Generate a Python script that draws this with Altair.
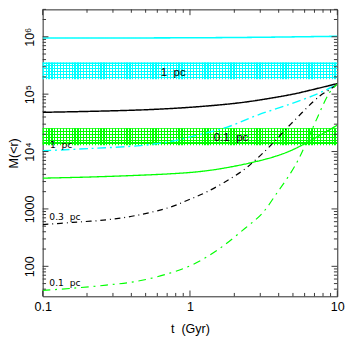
import altair as alt
import pandas as pd

# ---------------- data ----------------
cyan_solid_t = [0.1, 1.0, 3.0, 10.0]
cyan_solid_m = [9.5e5, 9.6e5, 9.8e5, 1.02e6]

black_solid_t = [0.1, 0.2, 0.5, 1.0, 2.0, 3.0, 5.0, 7.0, 10.0]
black_solid_m = [4.83e4, 5.0e4, 5.35e4, 5.9e4, 6.9e4, 7.95e4, 1.0e5, 1.22e5, 1.53e5]

cyan_dd_t = [0.1, 0.21, 0.46, 0.75, 0.97, 1.77, 2.91, 4.83, 7.19, 9.28, 10.0]
cyan_dd_m = [1.03e4, 1.13e4, 1.27e4, 1.5e4, 1.76e4, 2.64e4, 4.36e4, 6.78e4, 9.9e4, 1.35e5, 1.5e5]

green_solid_t = [0.1, 0.21, 0.44, 0.73, 1.09, 1.6, 2.64, 3.94, 5.08, 6.19, 7.99, 10.0]
green_solid_m = [3.44e3, 3.6e3, 3.85e3, 4.09e3, 4.4e3, 5.0e3, 6.45e3, 8.5e3, 1.1e4, 1.43e4, 2.05e4, 2.88e4]

black_dd_t = [0.1, 0.16, 0.27, 0.44, 0.73, 0.99, 1.31, 1.86, 2.39, 2.78, 3.4, 4.83, 7.6, 8.83, 10.0]
black_dd_m = [532, 583, 645, 777, 1070, 1460, 2000, 3300, 5100, 7100, 11600, 30000, 93000, 119000, 150000]

green_dd_t = [0.1, 0.16, 0.27, 0.44, 0.73, 1.05, 1.6, 2.39, 3.08, 3.95, 4.83, 5.48, 6.21, 7.22, 8.83, 10.0]
green_dd_m = [38, 41.5, 47, 55, 76, 108, 207, 470, 828, 2000, 4250, 7500, 15000, 36000, 105000, 150000]

series_names = ["cyan_solid", "black_solid", "cyan_dd", "green_solid", "black_dd", "green_dd"]
series_colors = ["#00ffff", "#000000", "#00ffff", "#00ff00", "#000000", "#00ff00"]
series_dash = [[1, 0], [1, 0], [9, 4, 2, 4], [1, 0], [6, 4, 1, 4], [8, 5, 2, 5]]
series_width = [1.6, 1.2, 1.6, 1.8, 1.0, 1.6]

band_labels = ["1\u00a0 pc", "0.1\u00a0 pc"]
band_lo = [1.81e5, 1.29e4]
band_hi = [3.57e5, 2.54e4]
band_colors = ["#00ffff", "#00ff00"]
band_label_t = [0.77, 1.9]
band_label_m = [2.45e5, 1.8e4]

curve_labels = ["1\u00a0 pc", "0.3\u00a0 pc", "0.1\u00a0 pc"]
curve_label_t = [0.112, 0.111, 0.111]
curve_label_m = [1.3e4, 711, 50.7]

x_major = [0.1, 1, 10]
x_minor = [0.2, 0.3, 0.4, 0.5, 0.6, 0.7, 0.8, 0.9, 2, 3, 4, 5, 6, 7, 8, 9]
y_major = [100, 1000, 1e4, 1e5, 1e6]
y_minor = [40, 50, 60, 70, 80, 90,
           200, 300, 400, 500, 600, 700, 800, 900,
           2e3, 3e3, 4e3, 5e3, 6e3, 7e3, 8e3, 9e3,
           2e4, 3e4, 4e4, 5e4, 6e4, 7e4, 8e4, 9e4,
           2e5, 3e5, 4e5, 5e5, 6e5, 7e5, 8e5, 9e5,
           2e6, 3e6]

# ---------------- build tables ----------------
W, H = 306, 298

rows = []
for name, ts, ms in [
    ("cyan_solid", cyan_solid_t, cyan_solid_m),
    ("black_solid", black_solid_t, black_solid_m),
    ("cyan_dd", cyan_dd_t, cyan_dd_m),
    ("green_solid", green_solid_t, green_solid_m),
    ("black_dd", black_dd_t, black_dd_m),
    ("green_dd", green_dd_t, green_dd_m),
]:
    for t, m in zip(ts, ms):
        rows.append({"series": name, "t": t, "m": m})
lines_df = pd.DataFrame(rows)

bands_df = pd.DataFrame({"label": band_labels, "lo": band_lo, "hi": band_hi,
                         "color": band_colors, "t": band_label_t, "m": band_label_m})
clabels_df = pd.DataFrame({"label": curve_labels, "t": curve_label_t, "m": curve_label_m})

xs = alt.Scale(type="log", domain=[0.1, 10], nice=False)
ys = alt.Scale(type="log", domain=[30, 3e6], nice=False)

y_label_expr = ("datum.value >= 1e6 ? '10\u2076' : datum.value >= 1e5 ? '10\u2075' : "
                "datum.value >= 1e4 ? '10\u2074' : format(datum.value, 'd')")

x_axis = alt.Axis(
    values=x_major, format="~g", ticks=False, domain=False, grid=False,
    labelFlush=False, labelOverlap=False, labelPadding=5, labelFontSize=13,
    title="t\u00a0 (Gyr)", titleFontSize=13, titleFontWeight="normal", titlePadding=10)
y_axis = alt.Axis(
    values=y_major, labelExpr=y_label_expr, ticks=False, domain=False, grid=False,
    labelAngle=-90, labelAlign="center", labelBaseline="bottom", labelPadding=6,
    labelOverlap=False, labelFontSize=13,
    title="M(<r)", titleFontSize=13, titleFontWeight="normal",
    titleAngle=-90, titleX=-30, titleY=H / 2, titleBaseline="middle", titleAlign="center")


def X(field):
    return alt.X(field, scale=xs, axis=x_axis)


def Y(field):
    return alt.Y(field, scale=ys, axis=y_axis)


lines = alt.Chart(lines_df).mark_line(interpolate="catmull-rom", clip=True).encode(
    x=X("t:Q"),
    y=Y("m:Q"),
    detail="series:N",
    color=alt.Color("series:N", scale=alt.Scale(domain=series_names, range=series_colors), legend=None),
    strokeDash=alt.StrokeDash("series:N", scale=alt.Scale(domain=series_names, range=series_dash), legend=None),
    strokeWidth=alt.StrokeWidth("series:N", scale=alt.Scale(domain=series_names, range=series_width), legend=None),
)


# cross-hatch look for the bands: two stacked striped fills (style only)
def stripes(color, n, frac, horizontal):
    clear = "rgba(255,255,255,0)"
    stops = []
    for k in range(n):
        a = k / n
        b = (k + frac) / n
        c = (k + 1) / n
        stops += [alt.GradientStop(color=color, offset=a), alt.GradientStop(color=color, offset=b),
                  alt.GradientStop(color=clear, offset=b), alt.GradientStop(color=clear, offset=c)]
    if horizontal:
        return alt.LinearGradient(gradient="linear", stops=stops, x1=0, x2=1, y1=0, y2=0)
    return alt.LinearGradient(gradient="linear", stops=stops, x1=0, x2=0, y1=0, y2=1)


band_layers = []
for i in range(len(band_labels)):
    sub = bands_df.iloc[[i]]
    for horiz, n in [(True, W // 3), (False, 6)]:
        band_layers.append(
            alt.Chart(sub).mark_rect(fill=stripes(band_colors[i], n, 0.42, horiz), strokeWidth=0).encode(
                x=alt.value(0), x2=alt.value(W), y=Y("lo:Q"), y2="hi:Q"))

band_text = alt.Chart(bands_df).mark_text(fontSize=12, color="black", align="center", baseline="middle").encode(
    x=X("t:Q"), y=Y("m:Q"), text="label:N")

curve_text = alt.Chart(clabels_df).mark_text(fontSize=9.5, color="black", align="left", baseline="middle",
                                             font="DejaVu Sans").encode(
    x=X("t:Q"), y=Y("m:Q"), text="label:N")

tick_color = "#333333"


def xticks(vals, length):
    df = pd.DataFrame({"t": vals})
    b = alt.Chart(df).mark_rule(color=tick_color, strokeWidth=1).encode(
        x=X("t:Q"), y=alt.value(H), y2=alt.value(H - length))
    t = alt.Chart(df).mark_rule(color=tick_color, strokeWidth=1).encode(
        x=X("t:Q"), y=alt.value(0), y2=alt.value(length))
    return [b, t]


def yticks(vals, length):
    df = pd.DataFrame({"m": vals})
    l = alt.Chart(df).mark_rule(color=tick_color, strokeWidth=1).encode(
        y=Y("m:Q"), x=alt.value(0), x2=alt.value(length))
    r = alt.Chart(df).mark_rule(color=tick_color, strokeWidth=1).encode(
        y=Y("m:Q"), x=alt.value(W), x2=alt.value(W - length))
    return [l, r]


chart = alt.layer(
    *band_layers,
    lines,
    band_text, curve_text,
    *xticks(x_major, 6), *xticks(x_minor, 3.5),
    *yticks(y_major, 6), *yticks(y_minor, 3.5),
).properties(
    width=W, height=H, padding={"top": -6, "left": 0, "right": 0, "bottom": 0}
).configure_view(
    stroke="#222222", strokeWidth=1
).configure_axis(
    labelFont="Liberation Sans", titleFont="Liberation Sans", labelColor="black", titleColor="black"
).configure_text(font="Liberation Sans")

chart.save("out.html", embed_options={"renderer": "svg", "actions": False})
